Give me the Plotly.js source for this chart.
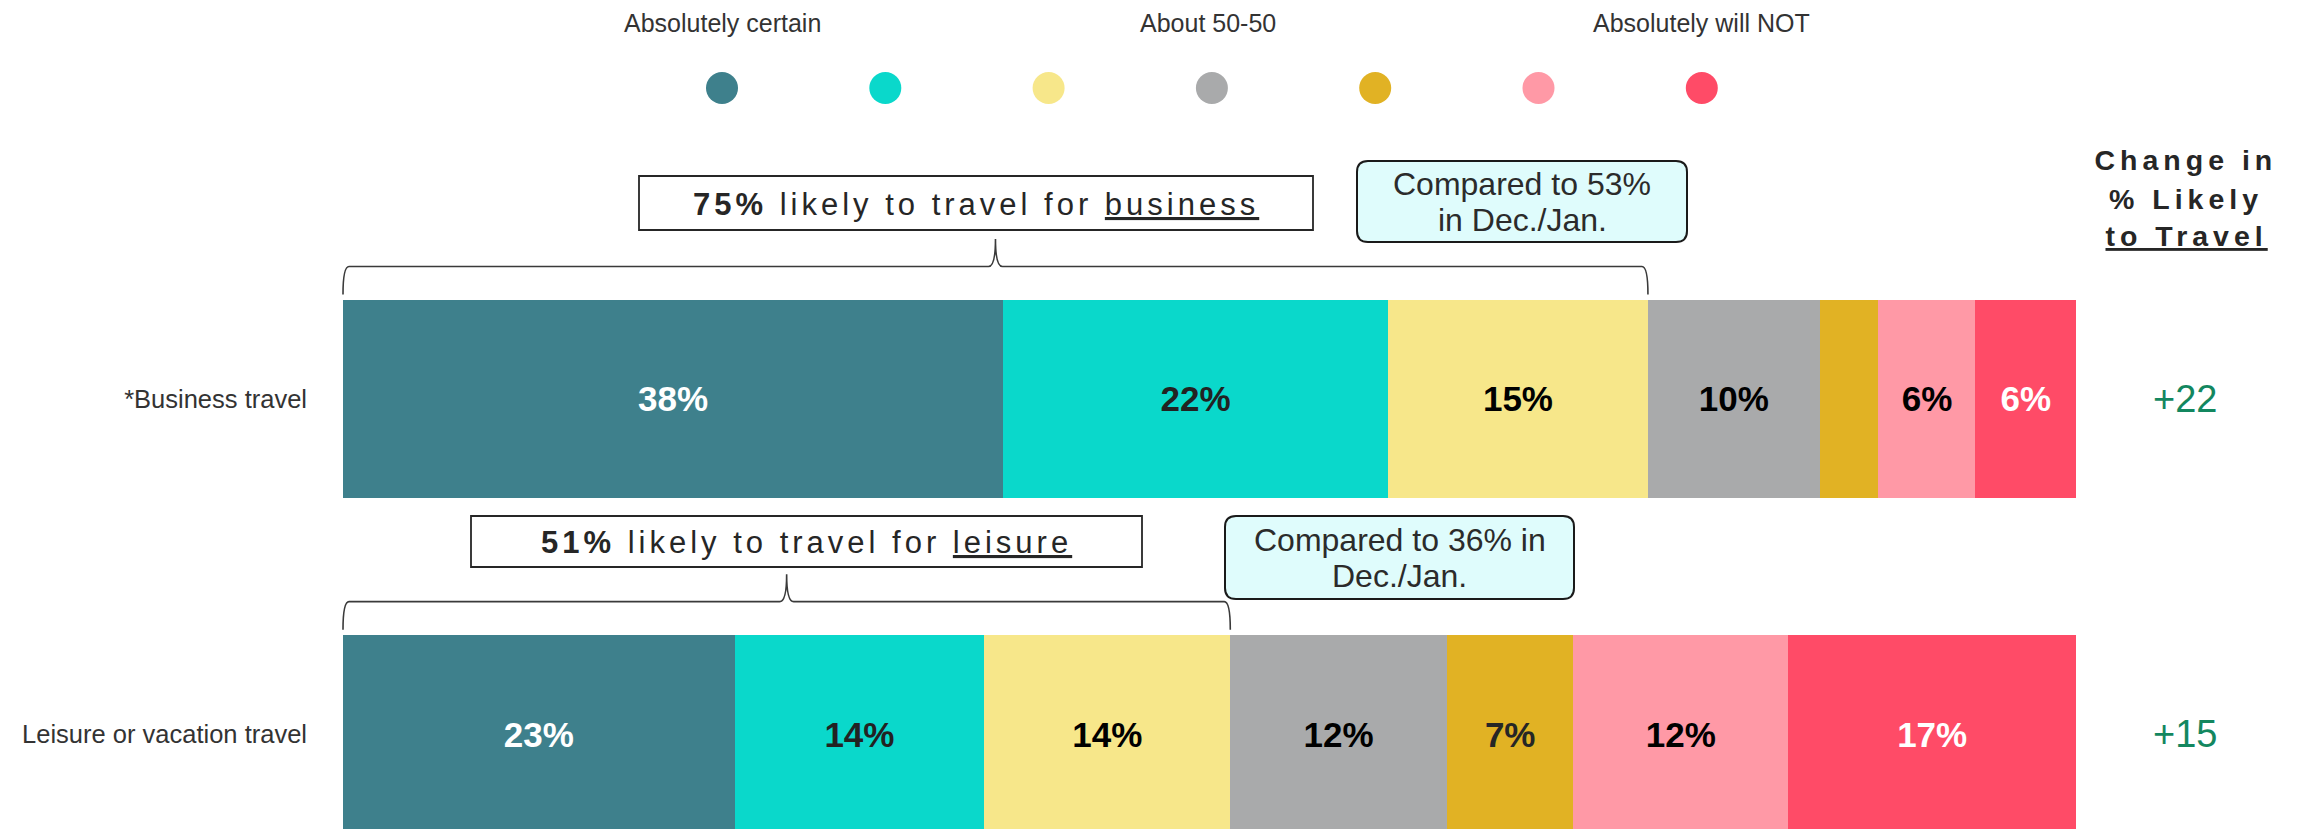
<!DOCTYPE html>
<html>
<head>
<meta charset="utf-8">
<script src="https://cdn.plot.ly/plotly-3.0.1.min.js"></script>
<style>
html, body { margin: 0; padding: 0; background: #ffffff; }
#chart { width: 2300px; height: 829px; }
</style>
</head>
<body>
<div id="chart"></div>
<script>
// ---------------- DATA ----------------
const categories = ["*Business travel", "Leisure or vacation travel"];
const levels = ["Absolutely certain", "Very likely", "Somewhat likely", "About 50-50", "Somewhat unlikely", "Very unlikely", "Absolutely will NOT"];
const legendLabels = ["Absolutely certain", "", "", "About 50-50", "", "", "Absolutely will NOT"];
const levelColors = ["#3E808C", "#0AD8CB", "#F7E78A", "#A9AAAB", "#E1B224", "#FF99A6", "#FF4B67"];
const labelColors = ["#ffffff", "#222222", "#000000", "#000000", "#262626", "#000000", "#ffffff"];

const businessValues = [38.1, 22.2, 15.0, 9.9, 3.4, 5.6, 5.8];
const leisureValues  = [22.6, 14.4, 14.2, 12.5, 7.3, 12.4, 16.6];
const businessLabels = ["38%", "22%", "15%", "10%", "", "6%", "6%"];
const leisureLabels  = ["23%", "14%", "14%", "12%", "7%", "12%", "17%"];

const likelyPct   = [75, 51];
const likelyType  = ["business", "leisure"];
const priorPct    = [53, 36];
const changeVals  = [22, 15];
const priorPeriod = "Dec./Jan.";

// ---------------- LAYOUT HELPERS ----------------
const FONT = "'Liberation Sans', Arial, Helvetica, sans-serif";
const W = 2300, H = 829;
const PL = 343, PR = 2076;           // plot area in pixels
const PW = PR - PL;
const yRange = [1.2835, -1.1904];    // reversed category axis
const unitPx = H / (yRange[0] - yRange[1]);
const barWidth = 0.59;
const px = x => (x - PL) / PW;        // pixel x -> paper
const py = y => 1 - y / H;            // pixel y -> paper
const dataX = v => PL + v / 100 * PW; // data x -> pixel
const catCenterPx = k => (k - yRange[1]) * unitPx;

// ---------------- TRACES ----------------
const series = [businessValues, leisureValues];
const seriesLabels = [businessLabels, leisureLabels];
const traces = levels.map((lvl, i) => ({
  type: "bar",
  orientation: "h",
  name: lvl,
  y: categories,
  x: series.map(s => s[i]),
  text: seriesLabels.map(s => s[i]),
  textposition: "inside",
  insidetextanchor: "middle",
  textangle: 0,
  constraintext: "none",
  textfont: { family: FONT, size: 35, color: labelColors[i], weight: 700 },
  marker: { color: levelColors[i], line: { width: 0 } },
  width: barWidth,
  hoverinfo: "skip",
  showlegend: false
}));

// ---------------- SHAPES ----------------
const shapes = [];

// legend circles
const legendX0 = 722, legendStep = 163.3, legendY = 88, legendR = 16;
levels.forEach((lvl, i) => {
  shapes.push({
    type: "circle", xref: "paper", yref: "paper",
    xsizemode: "pixel", ysizemode: "pixel",
    xanchor: px(legendX0 + i * legendStep), yanchor: py(legendY),
    x0: -legendR, x1: legendR, y0: -legendR, y1: legendR,
    fillcolor: levelColors[i], line: { width: 0 }
  });
});

// braces over the "likely" share
const seriesAll = [businessValues, leisureValues];
categories.forEach((c, k) => {
  const sum3 = seriesAll[k][0] + seriesAll[k][1] + seriesAll[k][2];
  const x0 = dataX(0), x1 = dataX(sum3), xm = (x0 + x1) / 2;
  const top = catCenterPx(k) - barWidth * unitPx / 2;
  const yEnd = top - 5.5, yLine = top - 33.5, yPeak = top - 61;
  const P = (x, y) => px(x) + "," + py(y);
  const path = "M" + P(x0, yEnd) +
    " Q" + P(x0, yLine) + " " + P(x0 + 6, yLine) +
    " L" + P(xm - 7, yLine) +
    " Q" + P(xm, yLine) + " " + P(xm, yPeak) +
    " Q" + P(xm, yLine) + " " + P(xm + 7, yLine) +
    " L" + P(x1 - 6, yLine) +
    " Q" + P(x1, yLine) + " " + P(x1, yEnd);
  shapes.push({ type: "path", xref: "paper", yref: "paper", path: path,
    line: { color: "#3a3a3a", width: 1.6 } });
});

// rectangular boxes
const rectBoxes = [
  { x0: 639, x1: 1313, y0: 176, y1: 230, cx: 976, cy: 204 },
  { x0: 471, x1: 1142, y0: 516, y1: 567, cx: 806.5, cy: 542 }
];
rectBoxes.forEach(b => {
  shapes.push({ type: "rect", xref: "paper", yref: "paper",
    x0: px(b.x0), x1: px(b.x1), y0: py(b.y1), y1: py(b.y0),
    fillcolor: "#ffffff", line: { color: "#262626", width: 1.8 } });
});

// rounded boxes
const roundBoxes = [
  { x0: 1357, x1: 1687, y0: 161, y1: 242 },
  { x0: 1225, x1: 1574, y0: 516, y1: 599 }
];
roundBoxes.forEach(b => {
  const r = 11;
  const P = (x, y) => px(x) + "," + py(y);
  const path = "M" + P(b.x0 + r, b.y0) +
    " L" + P(b.x1 - r, b.y0) + " Q" + P(b.x1, b.y0) + " " + P(b.x1, b.y0 + r) +
    " L" + P(b.x1, b.y1 - r) + " Q" + P(b.x1, b.y1) + " " + P(b.x1 - r, b.y1) +
    " L" + P(b.x0 + r, b.y1) + " Q" + P(b.x0, b.y1) + " " + P(b.x0, b.y1 - r) +
    " L" + P(b.x0, b.y0 + r) + " Q" + P(b.x0, b.y0) + " " + P(b.x0 + r, b.y0) + " Z";
  shapes.push({ type: "path", xref: "paper", yref: "paper", path: path,
    fillcolor: "#DFFCFC", line: { color: "#1a1a1a", width: 2 } });
});

// ---------------- ANNOTATIONS ----------------
const annotations = [];
const spaced = {}; // annotation index -> letter spacing px
function addAnn(a, spacing) {
  annotations.push(Object.assign({ showarrow: false, xanchor: "center", yanchor: "middle" }, a));
  if (spacing) spaced[annotations.length - 1] = spacing;
}

// legend labels
legendLabels.forEach((t, i) => {
  if (!t) return;
  addAnn({ xref: "paper", yref: "paper", x: px(legendX0 + i * legendStep - (i === 3 ? 4 : 0)), y: py(23.5),
    text: t, font: { family: FONT, size: 25, color: "#333333" } });
});

// likely boxes text
rectBoxes.forEach((b, k) => {
  addAnn({ xref: "paper", yref: "paper", x: px(b.cx), y: py(b.cy),
    text: "<b>" + likelyPct[k] + "%</b> likely to travel for <u>" + likelyType[k] + "</u>",
    font: { family: FONT, size: 31, color: "#262626" } }, 4);
});

// compared-to boxes text
const compLines = [
  ["Compared to " + priorPct[0] + "%", "in " + priorPeriod],
  ["Compared to " + priorPct[1] + "% in", priorPeriod]
];
roundBoxes.forEach((b, k) => {
  const cx = (b.x0 + b.x1) / 2, cy = (b.y0 + b.y1) / 2;
  compLines[k].forEach((t, j) => {
    addAnn({ xref: "paper", yref: "paper", x: px(cx), y: py(cy + (j === 0 ? -18 : 18)),
      text: t, font: { family: FONT, size: 32, color: "#2b2b2b" } });
  });
});

// header on the right
const headerLines = ["Change in", "% Likely", "<u>to Travel</u>"];
const headerY = [160, 199, 236];
headerLines.forEach((t, j) => {
  addAnn({ xref: "paper", yref: "paper", x: px(2186), y: py(headerY[j]),
    text: "<b>" + t + "</b>", font: { family: FONT, size: 28.5, color: "#262626" } }, 5);
});

// change values
categories.forEach((c, k) => {
  addAnn({ xref: "paper", yref: "y", x: px(2185), y: c,
    text: (changeVals[k] >= 0 ? "+" : "") + changeVals[k],
    font: { family: FONT, size: 38, color: "#13875F" } });
});

// letter spacing css
const css = Object.keys(spaced).map(i =>
  'g.annotation[data-index="' + i + '"] text { letter-spacing: ' + spaced[i] + 'px; }').join("\n");
const st = document.createElement("style");
st.textContent = css;
document.head.appendChild(st);

// ---------------- LAYOUT ----------------
const layout = {
  width: W, height: H,
  margin: { l: PL, r: W - PR, t: 0, b: 0, pad: 0 },
  paper_bgcolor: "#ffffff", plot_bgcolor: "#ffffff",
  barmode: "stack",
  showlegend: false,
  font: { family: FONT, color: "#333333" },
  xaxis: { range: [0, 100], visible: false, fixedrange: true },
  yaxis: {
    type: "category", range: yRange, showgrid: false, zeroline: false, showline: false,
    ticks: "", ticklabelstandoff: 35,
    tickfont: { family: FONT, size: 25.5, color: "#333333" }, fixedrange: true
  },
  shapes: shapes,
  annotations: annotations
};

Plotly.newPlot("chart", traces, layout, { staticPlot: true, displayModeBar: false });
</script>
</body>
</html>
